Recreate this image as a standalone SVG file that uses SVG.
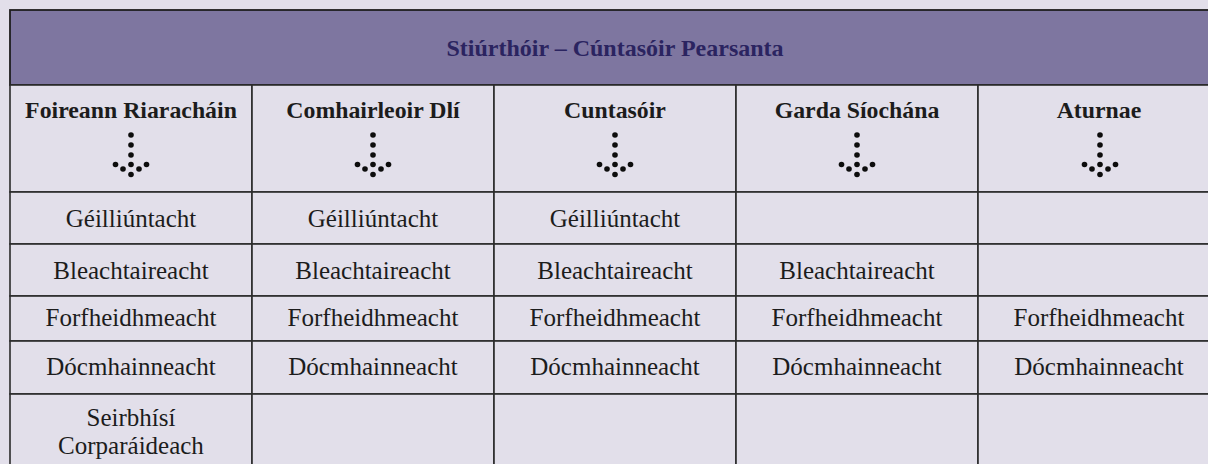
<svg xmlns="http://www.w3.org/2000/svg" xmlns:xlink="http://www.w3.org/1999/xlink" width="1208" height="464" viewBox="0 0 1208 464">
<style>
.cell{fill:#e2dfea;stroke:#2b2b2b;stroke-width:1.6}
.hdr{fill:#7e76a0;stroke:#1e1e1e;stroke-width:1.8}
.t{font-family:"Liberation Serif","Times New Roman",serif;font-size:25px;fill:#1c1c1c;text-anchor:middle}
.b{font-weight:bold;font-size:23.8px}
.title{font-family:"Liberation Serif","Times New Roman",serif;font-weight:bold;font-size:24px;fill:#2b2460;text-anchor:middle}
.dot{fill:#0d0d0d}
</style>
<defs>
<g id="arrow">
<circle class="dot" cx="0" cy="0" r="2.8"/>
<circle class="dot" cx="0" cy="10" r="2.8"/>
<circle class="dot" cx="0" cy="20" r="2.8"/>
<circle class="dot" cx="0" cy="29.5" r="2.8"/>
<circle class="dot" cx="-15.5" cy="29.5" r="2.8"/>
<circle class="dot" cx="15.5" cy="29.5" r="2.8"/>
<circle class="dot" cx="-8" cy="34" r="2.8"/>
<circle class="dot" cx="8" cy="34" r="2.8"/>
<circle class="dot" cx="0" cy="39.5" r="2.8"/>
</g>
</defs>
<rect x="0" y="0" width="1208" height="464" fill="#e2dfea"/>
<g id="title">
<rect class="hdr" x="10" y="10" width="1210" height="75"/>
<text class="title" x="615" y="56">Stiúrthóir – Cúntasóir Pearsanta</text>
</g>
<g id="col1">
<rect class="cell" x="10" y="85" width="242" height="107"/>
<text class="t b" x="131" y="118">Foireann Riaracháin</text>
</g>
<g id="col2">
<rect class="cell" x="252" y="85" width="242" height="107"/>
<text class="t b" x="373" y="118">Comhairleoir Dlí</text>
</g>
<g id="col3">
<rect class="cell" x="494" y="85" width="242" height="107"/>
<text class="t b" x="615" y="118">Cuntasóir</text>
</g>
<g id="col4">
<rect class="cell" x="736" y="85" width="242" height="107"/>
<text class="t b" x="857" y="118">Garda Síochána</text>
</g>
<g id="col5">
<rect class="cell" x="978" y="85" width="242" height="107"/>
<text class="t b" x="1099" y="118">Aturnae</text>
</g>
<g id="connectors">
<use xlink:href="#arrow" x="131" y="135"/>
<use xlink:href="#arrow" x="373" y="135"/>
<use xlink:href="#arrow" x="615" y="135"/>
<use xlink:href="#arrow" x="857" y="135"/>
<use xlink:href="#arrow" x="1100" y="135"/>
</g>
<g id="row1">
<rect class="cell" x="10" y="192" width="242" height="52"/>
<rect class="cell" x="252" y="192" width="242" height="52"/>
<rect class="cell" x="494" y="192" width="242" height="52"/>
<rect class="cell" x="736" y="192" width="242" height="52"/>
<rect class="cell" x="978" y="192" width="242" height="52"/>
<text class="t" x="131" y="227">Géilliúntacht</text>
<text class="t" x="373" y="227">Géilliúntacht</text>
<text class="t" x="615" y="227">Géilliúntacht</text>
</g>
<g id="row2">
<rect class="cell" x="10" y="244" width="242" height="52"/>
<rect class="cell" x="252" y="244" width="242" height="52"/>
<rect class="cell" x="494" y="244" width="242" height="52"/>
<rect class="cell" x="736" y="244" width="242" height="52"/>
<rect class="cell" x="978" y="244" width="242" height="52"/>
<text class="t" x="131" y="279">Bleachtaireacht</text>
<text class="t" x="373" y="279">Bleachtaireacht</text>
<text class="t" x="615" y="279">Bleachtaireacht</text>
<text class="t" x="857" y="279">Bleachtaireacht</text>
</g>
<g id="row3">
<rect class="cell" x="10" y="296" width="242" height="45"/>
<rect class="cell" x="252" y="296" width="242" height="45"/>
<rect class="cell" x="494" y="296" width="242" height="45"/>
<rect class="cell" x="736" y="296" width="242" height="45"/>
<rect class="cell" x="978" y="296" width="242" height="45"/>
<text class="t" x="131" y="326">Forfheidhmeacht</text>
<text class="t" x="373" y="326">Forfheidhmeacht</text>
<text class="t" x="615" y="326">Forfheidhmeacht</text>
<text class="t" x="857" y="326">Forfheidhmeacht</text>
<text class="t" x="1099" y="326">Forfheidhmeacht</text>
</g>
<g id="row4">
<rect class="cell" x="10" y="341" width="242" height="53"/>
<rect class="cell" x="252" y="341" width="242" height="53"/>
<rect class="cell" x="494" y="341" width="242" height="53"/>
<rect class="cell" x="736" y="341" width="242" height="53"/>
<rect class="cell" x="978" y="341" width="242" height="53"/>
<text class="t" x="131" y="375">Dócmhainneacht</text>
<text class="t" x="373" y="375">Dócmhainneacht</text>
<text class="t" x="615" y="375">Dócmhainneacht</text>
<text class="t" x="857" y="375">Dócmhainneacht</text>
<text class="t" x="1099" y="375">Dócmhainneacht</text>
</g>
<g id="row5">
<rect class="cell" x="10" y="394" width="242" height="80"/>
<rect class="cell" x="252" y="394" width="242" height="80"/>
<rect class="cell" x="494" y="394" width="242" height="80"/>
<rect class="cell" x="736" y="394" width="242" height="80"/>
<rect class="cell" x="978" y="394" width="242" height="80"/>
<text class="t" x="131" y="426">Seirbhísí</text>
<text class="t" x="131" y="454">Corparáideach</text>
</g>
</svg>
